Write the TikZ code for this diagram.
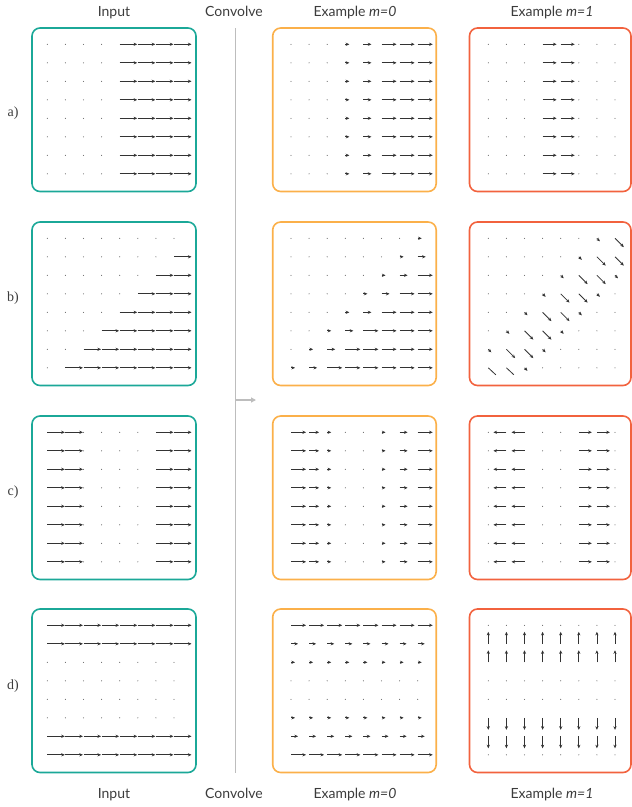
\documentclass[tikz,border=0pt]{standalone}
\usepackage{fontspec}
\setsansfont{Lato}
\newfontfamily\rowfont{Liberation Serif}
\usetikzlibrary{arrows.meta}
\definecolor{inTeal}{HTML}{1BA898}
\definecolor{mzOrange}{HTML}{FBB04A}
\definecolor{moRed}{HTML}{F2623E}
\definecolor{vecGray}{HTML}{333333}
\definecolor{sepGray}{HTML}{BDBDBD}
\definecolor{txtGray}{HTML}{3C3C3C}
\tikzset{
  panelbox/.style={draw, line width=1.6pt, rounded corners=8pt},
  vec/.style={draw=vecGray, line width=0.8pt, -{Stealth[length=3.6pt,width=3.2pt]}},
  vecline/.style={draw=vecGray, line width=0.8pt},
  gdot/.style={fill=black!65},
  lbl/.style={font=\sffamily\fontsize{14}{16}\selectfont, text=txtGray, inner sep=0pt, anchor=base},
  rowlbl/.style={font=\rowfont\fontsize{14}{16}\selectfont, text=txtGray, inner sep=0pt},
  sep/.style={draw=sepGray, line width=1.4pt},
  separrow/.style={draw=sepGray, line width=1.2pt, -{Triangle[length=5pt,width=5pt]}}
}
\newcommand\drawvec[4]{%
  \pgfmathsetmacro\vlen{veclen(#3,#4)}%
  \ifdim\vlen pt<0.1pt
    \fill[gdot] (#1,#2) circle (0.55pt);
  \else
    \draw[vec] (#1,#2) -- ++(#3,#4);
  \fi}
\newcommand\qpanel[4]{%
  \foreach \i in {0,...,7}{\foreach \j in {0,...,7}{%
    \pgfmathsetmacro\px{#1+18.1*\i}%
    \pgfmathsetmacro\py{#2+18.5*\j}%
    \pgfmathsetmacro\vx{#3}%
    \pgfmathsetmacro\vy{#4}%
    \drawvec{\px}{\py}{\vx}{\vy}%
  }}}
\begin{document}
\begin{tikzpicture}[x=1pt,y=-1pt]
\useasboundingbox (0,0) rectangle (632,807);

% column labels
\node[lbl] (tIn) at (114,16) {Input};
\node[lbl] (tConv) at (234,16) {Convolve};
\node[lbl] (tM0) at (355,16) {Example \textit{m=0}};
\node[lbl] (tM1) at (552,16) {Example \textit{m=1}};
\node[lbl] (bIn) at (114,798) {Input};
\node[lbl] (bConv) at (234,798) {Convolve};
\node[lbl] (bM0) at (355,798) {Example \textit{m=0}};
\node[lbl] (bM1) at (552,798) {Example \textit{m=1}};

% row labels
\node[rowlbl] (ra) at (13,113) {a)};
\node[rowlbl] (rb) at (13,298) {b)};
\node[rowlbl] (rc) at (13,492) {c)};
\node[rowlbl] (rd) at (13,686) {d)};

% separator
\coordinate (sTop) at (235.5,28);
\coordinate (sBot) at (235.5,773);
\coordinate (sMid) at (235.5,400);
\coordinate (sTip) at (256,400);
\draw[sep] (sTop) -- (sBot);
\draw[separrow] (sMid) -- (sTip);

% boxes
\foreach \t in {28,222,416,609}{
  \draw[panelbox, inTeal] (32,\t) rectangle ++(164,163.5);
  \draw[panelbox, mzOrange] (272.7,\t) rectangle ++(163.5,163.5);
  \draw[panelbox, moRed] (469.5,\t) rectangle ++(161.5,163.5);
}

% ---- row a ----
\qpanel{47.3}{44.3}{(\i>3) ? 17.5 : 0}{0}
\qpanel{291}{44.3}{(\i>4) ? 15 : ((\i==4) ? 8 : ((\i==3) ? 4 : 0))}{0}
\qpanel{488.3}{44.3}{(\i==3 || \i==4) ? 14 : 0}{0}

% ---- row b ----
\qpanel{47.3}{238.3}{(\i+\j>7) ? 17.5 : 0}{0}
\qpanel{291}{238.3}{(\i+\j>8) ? 15 : ((\i+\j==8) ? 8 : ((\i+\j==7) ? 4 : 0))}{0}
\foreach \i in {0,...,7}{\foreach \j in {0,...,6}{%
  \pgfmathsetmacro\px{488.3+18.1*\i}%
  \pgfmathsetmacro\py{238.3+18.5*\j}%
  \pgfmathsetmacro\vd{(\i+\j==7 || \i+\j==8) ? 8.8 : ((\i+\j==6 || \i+\j==9) ? 3 : 0)}%
  \drawvec{\px}{\py}{\vd}{\vd}%
}}
\foreach \i in {0,1}{%
  \pgfmathsetmacro\px{488.3+18.1*\i}%
  \draw[vecline] (\px,367.8) -- ++(7.5,7);
}
\draw[vec] (524.5,367.8) -- ++(3,3);
\foreach \i in {3,...,7}{%
  \pgfmathsetmacro\px{488.3+18.1*\i}%
  \fill[gdot] (\px,367.8) circle (0.55pt);
}

% ---- row c ----
\qpanel{47.3}{432.3}{(\i<2 || \i>5) ? 17.5 : 0}{0}
\qpanel{291}{432.3}{(\i==0 || \i==7) ? 15 : ((\i==1) ? 10 : ((\i==6) ? 8 : ((\i==2 || \i==5) ? 4 : 0)))}{0}
\qpanel{488.3}{432.3}{(\i==1 || \i==2) ? -13 : ((\i==5 || \i==6) ? 13 : 0)}{0}

% ---- row d ----
\qpanel{47.3}{625.3}{(\j<2 || \j>5) ? 17.5 : 0}{0}
\qpanel{291}{625.3}{(\j==0 || \j==7) ? 15 : ((\j==1 || \j==6) ? 7 : ((\j==2 || \j==5) ? 4 : 0))}{0}
\qpanel{488.3}{625.3}{0}{(\j==1 || \j==2) ? -12 : ((\j==5 || \j==6) ? 12 : 0)}
\end{tikzpicture}
\end{document}
